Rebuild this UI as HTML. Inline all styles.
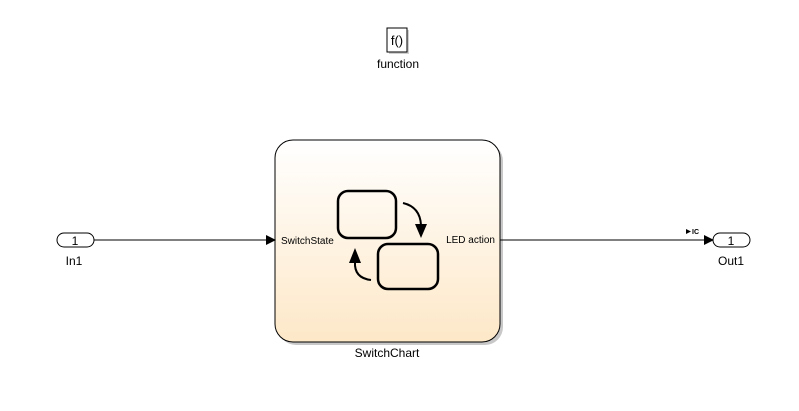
<!DOCTYPE html>
<html><head><style>body{margin:0;background:#fff}svg{display:block}</style></head><body>
<svg width="799" height="411" viewBox="0 0 799 411" xmlns="http://www.w3.org/2000/svg" font-family="Liberation Sans, Arial, sans-serif">
<defs>
<linearGradient id="g" x1="0" y1="0" x2="0" y2="1">
<stop offset="0" stop-color="#ffffff"/><stop offset="1" stop-color="#fde8c8"/>
</linearGradient>
<marker id="a" markerWidth="10" markerHeight="10" refX="9" refY="5" orient="auto" markerUnits="userSpaceOnUse"><path d="M0,0 L10,5 L0,10 z" fill="#000"/></marker>
</defs>
<rect x="389" y="30" width="20" height="24" fill="#d0d0d0"/>
<rect x="387" y="28" width="20" height="24" fill="#fff" stroke="#000" stroke-width="1"/>
<text x="397" y="45" font-size="13" text-anchor="middle">f()</text>
<text x="398" y="68" font-size="12" text-anchor="middle">function</text>
<rect x="278" y="143" width="225" height="202" rx="18" fill="#c8c8c8"/>
<rect x="275" y="140" width="225" height="202" rx="18" fill="url(#g)" stroke="#000" stroke-width="1"/>
<rect x="338" y="191" width="58" height="47" rx="10" fill="none" stroke="#000" stroke-width="2.5"/>
<rect x="378" y="244" width="60" height="45" rx="10" fill="none" stroke="#000" stroke-width="2.5"/>
<path d="M403,203 Q420,207 421,225" fill="none" stroke="#000" stroke-width="2"/>
<path d="M415,224 L427,224 L421,238 z" fill="#000"/>
<path d="M371,280 Q354,278 355,262" fill="none" stroke="#000" stroke-width="2"/>
<path d="M349,263 L361,263 L355,248 z" fill="#000"/>
<text x="281" y="244" font-size="10">SwitchState</text>
<text x="495" y="243" font-size="10" text-anchor="end">LED action</text>
<text x="387" y="357" font-size="12" text-anchor="middle">SwitchChart</text>
<rect x="57" y="233" width="37" height="14" rx="7" fill="#fff" stroke="#000"/>
<text x="75" y="245" font-size="12" text-anchor="middle">1</text>
<text x="74" y="265" font-size="12" text-anchor="middle">In1</text>
<line x1="94" y1="240" x2="275" y2="240" stroke="#000" marker-end="url(#a)"/>
<line x1="500" y1="240" x2="713" y2="240" stroke="#000" marker-end="url(#a)"/>
<path d="M686,229 L691,231.5 L686,234 z" fill="#000"/>
<text x="692" y="234" font-size="7" font-weight="bold">IC</text>
<rect x="713" y="233" width="37" height="14" rx="7" fill="#fff" stroke="#000"/>
<text x="731" y="245" font-size="12" text-anchor="middle">1</text>
<text x="731" y="265" font-size="12" text-anchor="middle">Out1</text>
</svg>
</body></html>
